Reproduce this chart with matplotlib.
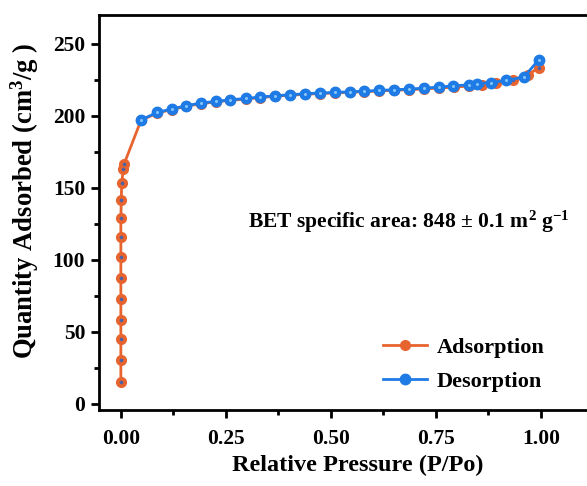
import matplotlib
matplotlib.use("Agg")
import matplotlib.pyplot as plt
from matplotlib.ticker import MultipleLocator, FormatStrFormatter

plt.rcParams["font.family"] = ["Liberation Serif", "DejaVu Serif"]
plt.rcParams["font.weight"] = "bold"
plt.rcParams["mathtext.fontset"] = "custom"
plt.rcParams["mathtext.rm"] = "Liberation Serif:bold"
plt.rcParams["mathtext.bf"] = "Liberation Serif:bold"
plt.rcParams["mathtext.default"] = "bf"

C_ADS = "#E8642F"
C_DES = "#1E7BE6"
C_DOT = "#4A63A8"

# adsorption branch
ads_p = [0.0, 0.0, 0.0, 0.0, 0.0, 0.0, 0.0, 0.0, 0.0, 0.001, 0.002, 0.006, 0.008,
         0.048, 0.087, 0.121, 0.156, 0.190, 0.226, 0.261, 0.297, 0.332, 0.368,
         0.402, 0.438, 0.474, 0.510, 0.545, 0.580, 0.615, 0.651, 0.686, 0.722,
         0.758, 0.794, 0.828, 0.859, 0.894, 0.934, 0.970, 0.995]
ads_q = [14.8, 29.9, 44.6, 58.3, 72.7, 87.3, 101.6, 115.5, 129.0, 141.7, 153.3, 163.2, 166.7,
         196.8, 201.9, 204.3, 206.6, 208.4, 209.6, 210.7, 211.6, 212.6, 213.5,
         214.2, 214.9, 215.4, 215.8, 216.3, 216.7, 217.2, 217.7, 218.1, 218.6,
         219.2, 219.9, 220.6, 221.5, 223.0, 225.0, 228.5, 233.5]

# desorption branch
des_p = [0.995, 0.960, 0.917, 0.881, 0.847, 0.829, 0.791, 0.758, 0.722, 0.686,
         0.651, 0.615, 0.580, 0.545, 0.510, 0.474, 0.438, 0.402, 0.368, 0.332,
         0.297, 0.261, 0.226, 0.190, 0.156, 0.121, 0.087, 0.048]
des_q = [238.9, 226.9, 224.5, 223.1, 222.2, 221.5, 220.8, 219.9, 219.2, 218.5,
         218.1, 217.6, 217.1, 216.7, 216.2, 215.8, 215.3, 214.6, 213.9, 213.0,
         212.0, 211.1, 210.0, 208.8, 207.0, 204.7, 202.3, 197.2]

fig = plt.figure(figsize=(5.87, 4.86), dpi=100)
ax = fig.add_axes([0.1687, 0.1564, 0.8313, 0.8127])

ax.plot(ads_p, ads_q, color=C_ADS, lw=2.0, marker="o", ms=7, mfc=C_ADS, mec=C_ADS,
        label="Adsorption", zorder=2)
ax.plot(ads_p, ads_q, ls="none", marker="o", ms=2.6, mfc=C_DOT, mec="none", zorder=2.1)
ax.plot(des_p, des_q, color=C_DES, lw=2.0, marker="o", ms=7.5, mfc=C_DES, mec=C_DES,
        label="Desorption", zorder=3)
# small highlight on the blue spheres
ax.plot(des_p, des_q, ls="none", marker="o", ms=2.2, mfc="#9fd8ff", mec="none",
        alpha=0.8, zorder=3.1)

ax.set_xlim(-0.052, 1.11)
ax.set_ylim(-4.5, 270)
ax.xaxis.set_major_locator(MultipleLocator(0.25))
ax.xaxis.set_minor_locator(MultipleLocator(0.125))
ax.yaxis.set_major_locator(MultipleLocator(50))
ax.yaxis.set_minor_locator(MultipleLocator(25))
ax.xaxis.set_major_formatter(FormatStrFormatter("%.2f"))

for s in ["left", "bottom", "top"]:
    ax.spines[s].set_linewidth(2.0)
ax.spines["right"].set_visible(False)
ax.tick_params(which="both", direction="out", width=2.0, labelsize=15.5, top=False, right=False)
ax.tick_params(which="major", length=6)
ax.tick_params(which="minor", length=3.5)
ax.tick_params(axis="x", pad=8)
ax.tick_params(axis="y", pad=4)

ax.set_xlabel("Relative Pressure (P/Po)", fontsize=17.5, fontweight="bold")
ax.set_ylabel(r"Quantity Adsorbed (cm$^{3}$/g )", fontsize=19.2, fontweight="bold")
ax.xaxis.set_label_coords(0.53, -0.113)
ax.yaxis.set_label_coords(-0.119, 0.53)

ax.text(0.303, 126, r"BET specific area: 848 $\pm$ 0.1 m$^{2}$ g$^{-1}$",
        fontsize=15.5, fontweight="bold", va="center", ha="left")

handles, labels = ax.get_legend_handles_labels()
ax.legend(handles, labels, loc="lower left", bbox_to_anchor=(0.54, -0.005), frameon=False,
          fontsize=16, handlelength=2.0, handletextpad=0.45, labelspacing=0.6)

fig.savefig("out.png", dpi=100, facecolor="white")
